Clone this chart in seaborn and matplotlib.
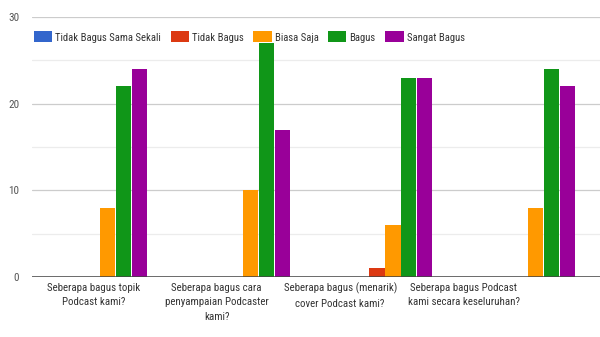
import pandas as pd
import seaborn as sns
import matplotlib.pyplot as plt
from matplotlib.ticker import MultipleLocator

# data
questions = [
    "Seberapa bagus topik\nPodcast kami?",
    "Seberapa bagus cara\npenyampaian Podcaster\nkami?",
    "Seberapa bagus (menarik)\ncover Podcast kami?",
    "Seberapa bagus Podcast\nkami secara keseluruhan?",
]
ratings = ["Tidak Bagus Sama Sekali", "Tidak Bagus", "Biasa Saja", "Bagus", "Sangat Bagus"]
tidak_bagus_sama_sekali = [0, 0, 0, 0]
tidak_bagus = [0, 0, 1, 0]
biasa_saja = [8, 10, 6, 8]
bagus = [22, 27, 23, 24]
sangat_bagus = [24, 17, 23, 22]
colors = ["#3366CC", "#DC3912", "#FF9900", "#109618", "#990099"]

series = [tidak_bagus_sama_sekali, tidak_bagus, biasa_saja, bagus, sangat_bagus]
rows = []
for r, vals in zip(ratings, series):
    for q, v in zip(questions, vals):
        rows.append({"question": q, "rating": r, "count": v})
df = pd.DataFrame(rows)

sns.set_style("white")
plt.rcParams['font.family'] = ['Roboto Condensed', 'DejaVu Sans']

fig = plt.figure(figsize=(6, 3.37), dpi=100)
ax = fig.add_axes([0.053, 0.178, 0.947, 0.7716])

sns.barplot(data=df, x="question", y="count", hue="rating", hue_order=ratings,
            palette=colors, saturation=1, width=0.56, gap=0.06, linewidth=0,
            ax=ax, zorder=3)

ax.set_ylim(0, 30)
ax.set_xlim(-0.53, 3.45)
ax.yaxis.set_major_locator(MultipleLocator(10))
ax.yaxis.set_minor_locator(MultipleLocator(5))
ax.grid(axis="y", which="major", color="#cccccc", linewidth=0.9, zorder=0)
ax.grid(axis="y", which="minor", color="#ececec", linewidth=0.9, zorder=0)
ax.axhline(0, color="#444444", linewidth=1.1, zorder=4)
for s in ax.spines.values():
    s.set_visible(False)

# category labels sit a little left of their bar groups in the source image
label_pos = [i * 0.865 - 0.1 for i in range(len(questions))]
ax.set_xticks(label_pos)
ax.set_xticklabels(questions, fontsize=7.8, color="#333333", linespacing=1.6)
ax.tick_params(axis="x", length=0, pad=4)
ax.tick_params(axis="y", which="both", length=0, pad=9, labelsize=8, labelcolor="#555555")
ax.set_xlabel("")
ax.set_ylabel("")

leg = ax.legend(loc="center left", bbox_to_anchor=(-0.004, 0.923), ncol=5, frameon=False,
                fontsize=7.7, handlelength=1.7, handleheight=1.2, handletextpad=0.3,
                columnspacing=0.9, borderaxespad=0)
for t in leg.get_texts():
    t.set_color("#333333")

fig.savefig("out.png", dpi=100)
